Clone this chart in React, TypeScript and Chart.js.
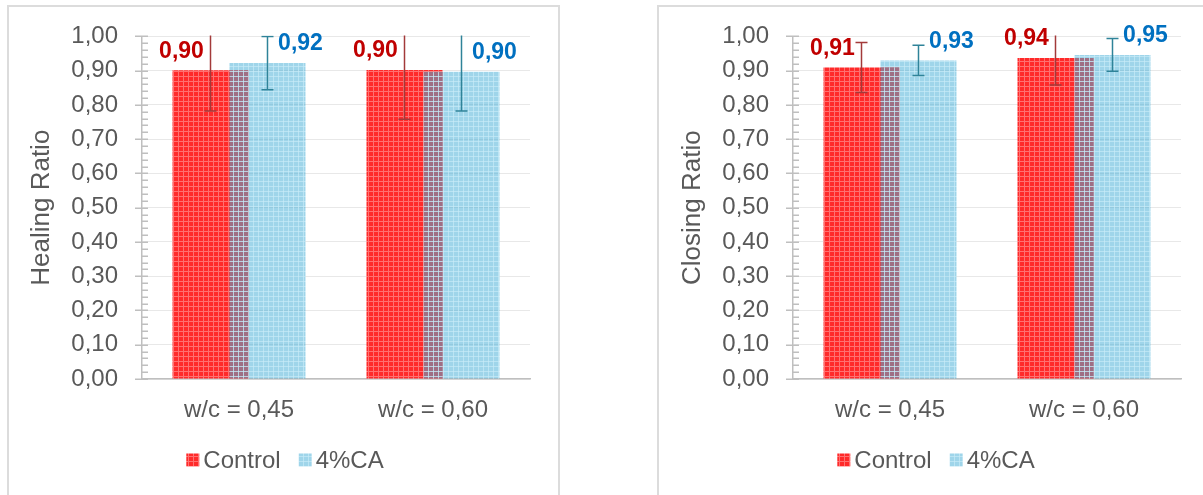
import React, { useEffect, useRef } from 'react';
import { Chart, registerables } from 'chart.js';

Chart.register(...registerables);

// ---------- data ----------
const categories = ['w/c = 0,45', 'w/c = 0,60'];
const seriesNames = ['Control', '4%CA'];

const healingControl = [0.901, 0.902];
const healingCA = [0.922, 0.897];
const healingControlErr = [0.119, 0.144];
const healingCAErr = [0.078, 0.115];

const closingControl = [0.909, 0.937];
const closingCA = [0.93, 0.946];
const closingControlErr = [0.073, 0.079];
const closingCAErr = [0.044, 0.048];

const yMin = 0;
const yMax = 1;
const yMajorStep = 0.1;
const yMinorDivisions = 5;

const FONT = '"Liberation Sans", Arial, sans-serif';
const TEXT_GRAY = '#595959';

function fmt(v: number) {
  return v.toFixed(2).replace('.', ',');
}

function makePattern(base: string, line: string) {
  const c = document.createElement('canvas');
  c.width = 5;
  c.height = 5;
  const g = c.getContext('2d')!;
  g.fillStyle = base;
  g.fillRect(0, 0, 5, 5);
  g.fillStyle = line;
  g.fillRect(0, 0, 5, 1);
  g.fillRect(0, 0, 1, 5);
  return g.createPattern(c, 'repeat')!;
}

const errorAndLabelPlugin = {
  id: 'errorAndLabel',
  afterDatasetsDraw(chart: any) {
    const { ctx, chartArea } = chart;
    const ys = chart.scales.y;

    // Excel draws the later series on top: redraw 4%CA where it overlaps Control
    const under = chart.getDatasetMeta(0);
    const over = chart.getDatasetMeta(1);
    ctx.save();
    ctx.beginPath();
    under.data.forEach((b: any) => {
      const p = b.getProps(['x', 'y', 'base', 'width'], true);
      ctx.rect(p.x - p.width / 2, Math.min(p.y, p.base), p.width, Math.abs(p.base - p.y));
    });
    ctx.clip();
    over.controller.draw();
    ctx.restore();

    ctx.save();
    ctx.beginPath();
    ctx.rect(chartArea.left, chartArea.top - 1, chartArea.right - chartArea.left, chartArea.bottom - chartArea.top + 1);
    ctx.clip();
    chart.data.datasets.forEach((ds: any, di: number) => {
      const meta = chart.getDatasetMeta(di);
      meta.data.forEach((bar: any, i: number) => {
        const v = ds.data[i];
        const e = ds.errors[i];
        const x = bar.x;
        const yTop = ys.getPixelForValue(v + e);
        const yBot = ys.getPixelForValue(v - e);
        ctx.strokeStyle = ds.errorColor;
        ctx.lineWidth = 1.5;
        ctx.beginPath();
        ctx.moveTo(x, yTop);
        ctx.lineTo(x, yBot);
        ctx.moveTo(x - 6, yTop);
        ctx.lineTo(x + 6, yTop);
        ctx.moveTo(x - 6, yBot);
        ctx.lineTo(x + 6, yBot);
        ctx.stroke();
      });
    });
    ctx.restore();

    ctx.save();
    ctx.font = `bold 23px ${FONT}`;
    ctx.textAlign = 'center';
    ctx.textBaseline = 'middle';
    chart.data.datasets.forEach((ds: any, di: number) => {
      const meta = chart.getDatasetMeta(di);
      meta.data.forEach((bar: any, i: number) => {
        ctx.fillStyle = ds.labelColor;
        ctx.fillText(fmt(ds.data[i]), bar.x + ds.labelDx, bar.y - 19);
      });
    });
    ctx.restore();
  },
  afterDraw(chart: any) {
    const { ctx, chartArea } = chart;
    const ys = chart.scales.y;
    const ax = chartArea.left;
    const n = Math.round((yMax - yMin) / yMajorStep) * yMinorDivisions;
    ctx.save();
    ctx.strokeStyle = '#BFBFBF';
    ctx.lineWidth = 1.5;
    ctx.beginPath();
    for (let k = 0; k <= n; k++) {
      const v = yMin + (k * yMajorStep) / yMinorDivisions;
      const yy = Math.round(ys.getPixelForValue(v)) + 0.25;
      const major = k % yMinorDivisions === 0;
      ctx.moveTo(major ? ax - 7 : ax, yy);
      ctx.lineTo(ax + 6, yy);
    }
    ctx.stroke();
    ctx.restore();

    // legend (series names and fills from the datasets)
    ctx.save();
    ctx.font = `24px ${FONT}`;
    ctx.textBaseline = 'middle';
    ctx.textAlign = 'left';
    const box = 13;
    const gapText = 4;
    const gapItem = 18;
    const items = chart.data.datasets.map((ds: any) => ({
      label: ds.label,
      fill: ds.backgroundColor,
      w: box + gapText + ctx.measureText(ds.label).width,
    }));
    const total = items.reduce((s: number, it: any) => s + it.w, 0) + gapItem * (items.length - 1);
    const cy = chart.height - 21;
    let x = chart.width / 2 + 2 - total / 2;
    items.forEach((it: any) => {
      ctx.fillStyle = it.fill;
      ctx.fillRect(x, cy - box / 2, box, box);
      ctx.fillStyle = TEXT_GRAY;
      ctx.fillText(it.label, x + box + gapText, cy + 1);
      x += it.w + gapItem;
    });
    ctx.restore();
  },
};

function BarChart(props: {
  title: string;
  control: number[];
  ca: number[];
  controlErr: number[];
  caErr: number[];
  left: number;
}) {
  const ref = useRef<HTMLCanvasElement>(null);
  useEffect(() => {
    const canvas = ref.current!;
    const redPattern = makePattern('#FF2A2A', '#FF7070');
    const bluePattern = makePattern('rgba(70,175,215,0.52)', 'rgba(200,235,248,0.7)');
    const chart = new Chart(canvas, {
      type: 'bar',
      data: {
        labels: categories,
        datasets: [
          {
            label: seriesNames[0],
            data: props.control,
            backgroundColor: redPattern,
            borderWidth: 0,
            categoryPercentage: 0.5876,
            barPercentage: 1.333,
            errors: props.controlErr,
            errorColor: '#A33A3A',
            labelColor: '#C00000',
            labelDx: -29,
          } as any,
          {
            label: seriesNames[1],
            data: props.ca,
            backgroundColor: bluePattern,
            borderWidth: 0,
            categoryPercentage: 0.5876,
            barPercentage: 1.333,
            errors: props.caErr,
            errorColor: '#2F8399',
            labelColor: '#0070C0',
            labelDx: 33,
          } as any,
        ],
      },
      options: {
        animation: false,
        responsive: false,
        maintainAspectRatio: false,
        events: [],
        layout: { padding: { left: 0, right: 28, top: 28, bottom: 44 } },
        plugins: {
          legend: { display: false },
          tooltip: { enabled: false },
        },
        scales: {
          x: {
            grid: { display: false, drawTicks: false },
            border: { display: true, color: '#BFBFBF', width: 1.5 },
            ticks: { color: TEXT_GRAY, font: { size: 24, family: FONT }, padding: 17 },
            afterFit: (s: any) => {
              s.height = 58;
            },
          },
          y: {
            min: yMin,
            max: yMax,
            ticks: {
              stepSize: yMajorStep,
              color: TEXT_GRAY,
              font: { size: 24, family: FONT },
              padding: 16,
              callback: (v: any) => fmt(Number(v)),
            },
            grid: {
              color: '#E8E8E8',
              drawTicks: true,
              tickLength: 8,
              tickColor: 'rgba(0,0,0,0)',
              lineWidth: 1,
            },
            border: { color: '#BFBFBF', width: 1.5 },
            title: {
              display: true,
              text: props.title,
              color: TEXT_GRAY,
              font: { size: 26, family: FONT },
              padding: { top: 18, bottom: 0 },
            },
            afterFit: (s: any) => {
              s.width = 134;
            },
          },
        },
      } as any,
      plugins: [errorAndLabelPlugin],
    });
    return () => chart.destroy();
  }, []);
  return (
    <canvas
      ref={ref}
      width={550}
      height={475}
      style={{ position: 'absolute', left: props.left, top: 6, width: 550, height: 475 }}
    />
  );
}

export default function App() {
  const boxStyle = (left: number): React.CSSProperties => ({
    position: 'absolute',
    left,
    top: 5,
    width: 553,
    height: 600,
    border: '2px solid #DCDCDC',
    boxSizing: 'border-box',
  });
  return (
    <div
      style={{
        position: 'absolute',
        left: 0,
        top: 0,
        width: 1203,
        height: 495,
        overflow: 'hidden',
        background: '#FFFFFF',
      }}
    >
      <div style={boxStyle(7)} />
      <div style={boxStyle(657)} />
      <BarChart
        title="Healing Ratio"
        control={healingControl}
        ca={healingCA}
        controlErr={healingControlErr}
        caErr={healingCAErr}
        left={8}
      />
      <BarChart
        title="Closing Ratio"
        control={closingControl}
        ca={closingCA}
        controlErr={closingControlErr}
        caErr={closingCAErr}
        left={659}
      />
    </div>
  );
}
